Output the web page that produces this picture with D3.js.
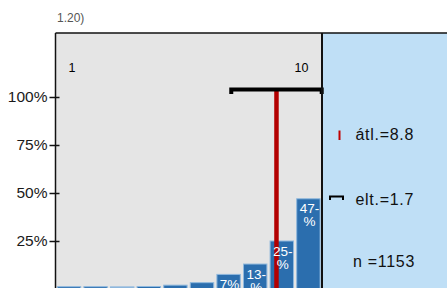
<!DOCTYPE html>
<head>
	<script src="https://d3js.org/d3.v7.min.js"></script>
	<style>
		body {
			margin: 0;
			background: #fff;
		}
		text {
			font-family: "Liberation Sans", Arial, sans-serif;
		}
		.tick text {
			font-size: 15.5px;
			fill: #1a1a1a;
		}
		.title {
			font-size: 12px;
			fill: #555;
		}
		.legend {
			font-size: 16px;
			letter-spacing: 0.7px;
			fill: #111;
		}
		.barlabel {
			font-size: 13.5px;
			fill: #fff;
		}
	</style>
</head>
<body>
	<script>
		// data
		var categories = [1, 2, 3, 4, 5, 6, 7, 8, 9, 10];
		var shares = [0.012, 0.012, 0.011, 0.013, 0.02, 0.033, 0.076, 0.13, 0.25, 0.47];
		var barLabels = ["", "", "", "", "", "", "7%", "13-|%", "25-|%", "47-|%"];
		var yTicks = [0.25, 0.5, 0.75, 1];
		var yTickLabels = ["25%", "50%", "75%", "100%"];
		var mean = 8.8;
		var sd = 1.7;
		var n = 1153;
		var titleText = "1.20)";

		var width = 447;
		var height = 288;
		var plot = { left: 55.5, right: 322, top: 33 };

		var svg = d3.select("body")
			.append("svg")
			.attr("width", width)
			.attr("height", height);

		// scales
		var xScale = d3.scaleLinear()
			.domain([0.5, 10.5])
			.range([55.7, 321.7]);
		var yScale = d3.scaleLinear()
			.domain([0, 1])
			.range([289, 97]);
		var step = xScale(2) - xScale(1);

		// panels
		svg.append("rect")
			.attr("x", plot.right)
			.attr("y", plot.top)
			.attr("width", width - plot.right)
			.attr("height", height - plot.top)
			.attr("fill", "#bfdff6");
		svg.append("rect")
			.attr("x", plot.left)
			.attr("y", plot.top)
			.attr("width", plot.right - plot.left)
			.attr("height", height - plot.top)
			.attr("fill", "#e5e5e5");

		// title
		svg.append("text")
			.text(titleText)
			.attr("x", 57)
			.attr("y", 21.5)
			.attr("class", "title");

		// scale end labels
		svg.append("text")
			.text(categories[0])
			.attr("x", xScale(1) + 3)
			.attr("y", 71.5)
			.attr("text-anchor", "middle")
			.style("font-size", "12.5px");
		svg.append("text")
			.text(categories[categories.length - 1])
			.attr("x", xScale(10) - 7)
			.attr("y", 71.5)
			.attr("text-anchor", "middle")
			.style("font-size", "12.5px");

		// bars
		svg.selectAll("rect.bar")
			.data(shares)
			.enter()
			.append("rect")
			.attr("class", "bar")
			.attr("x", function(d, i) { return xScale(categories[i]) - step * 0.44 })
			.attr("y", function(d) { return yScale(d) })
			.attr("width", step * 0.88)
			.attr("height", function(d) { return yScale(0) - yScale(d) })
			.attr("fill", function(d, i) { return i == 2 ? "#8fb8dd" : "#2b6eae" })
			.attr("stroke", "#8fb8dd")
			.attr("stroke-width", 1);

		// mean line
		svg.append("line")
			.attr("x1", xScale(mean))
			.attr("x2", xScale(mean))
			.attr("y1", 91)
			.attr("y2", height)
			.attr("stroke", "#b30000")
			.attr("stroke-width", 4.5);

		// bar labels
		svg.selectAll("text.barlabel")
			.data(barLabels)
			.enter()
			.append("text")
			.attr("class", "barlabel")
			.attr("text-anchor", "middle")
			.each(function(d, i) {
				var lines = d ? d.split("|") : [];
				var t = d3.select(this);
				lines.forEach(function(s, j) {
					t.append("tspan")
						.text(s)
						.attr("x", xScale(categories[i]) + 1)
						.attr("y", yScale(shares[i]) + 14.5 + j * 13);
				});
			});

		// sd bracket
		var sdLeft = xScale(mean - sd);
		var sdRight = Math.min(xScale(mean + sd), plot.right);
		svg.append("path")
			.attr("d", "M" + sdLeft + ",94 L" + sdLeft + ",89.5 L" + sdRight + ",89.5 L" + sdRight + ",94")
			.attr("fill", "none")
			.attr("stroke", "#000")
			.attr("stroke-width", 4);

		// frame
		svg.append("line")
			.attr("x1", plot.left).attr("x2", width)
			.attr("y1", plot.top).attr("y2", plot.top)
			.attr("stroke", "#111").attr("stroke-width", 1.5);
		svg.append("line")
			.attr("x1", plot.right).attr("x2", plot.right)
			.attr("y1", plot.top).attr("y2", height)
			.attr("stroke", "#111").attr("stroke-width", 2);

		// y axis
		var yAxis = d3.axisLeft()
			.scale(yScale)
			.tickValues(yTicks)
			.tickFormat(function(d, i) { return yTickLabels[i] })
			.tickSize(6)
			.tickPadding(2);
		var axisY = svg.append("g")
			.attr("transform", "translate(" + [plot.left, 0] + ")")
			.call(yAxis);
		axisY.select(".domain").remove();
		axisY.selectAll(".tick line")
			.attr("x2", 4)
			.attr("x1", -6)
			.attr("stroke", "#111")
			.attr("stroke-width", 1.5);
		axisY.selectAll(".tick text")
			.attr("x", -8)
			.attr("font-family", null)
			.attr("font-size", null);
		svg.append("line")
			.attr("x1", plot.left).attr("x2", plot.left)
			.attr("y1", plot.top).attr("y2", height)
			.attr("stroke", "#111").attr("stroke-width", 1.5);

		// legend
		svg.append("line")
			.attr("x1", 339.5).attr("x2", 339.5)
			.attr("y1", 130.5).attr("y2", 140)
			.attr("stroke", "#c00000").attr("stroke-width", 2);
		svg.append("text")
			.text("átl.=" + mean)
			.attr("x", 355.5)
			.attr("y", 140)
			.attr("class", "legend");
		svg.append("path")
			.attr("d", "M330,200 L330,196.5 L343,196.5 L343,200")
			.attr("fill", "none")
			.attr("stroke", "#000")
			.attr("stroke-width", 2);
		svg.append("text")
			.text("elt.=" + sd)
			.attr("x", 355.5)
			.attr("y", 204.5)
			.attr("class", "legend");
		svg.append("text")
			.text("n =" + n)
			.attr("x", 353)
			.attr("y", 267)
			.attr("class", "legend");
	</script>
</body>
</html>
